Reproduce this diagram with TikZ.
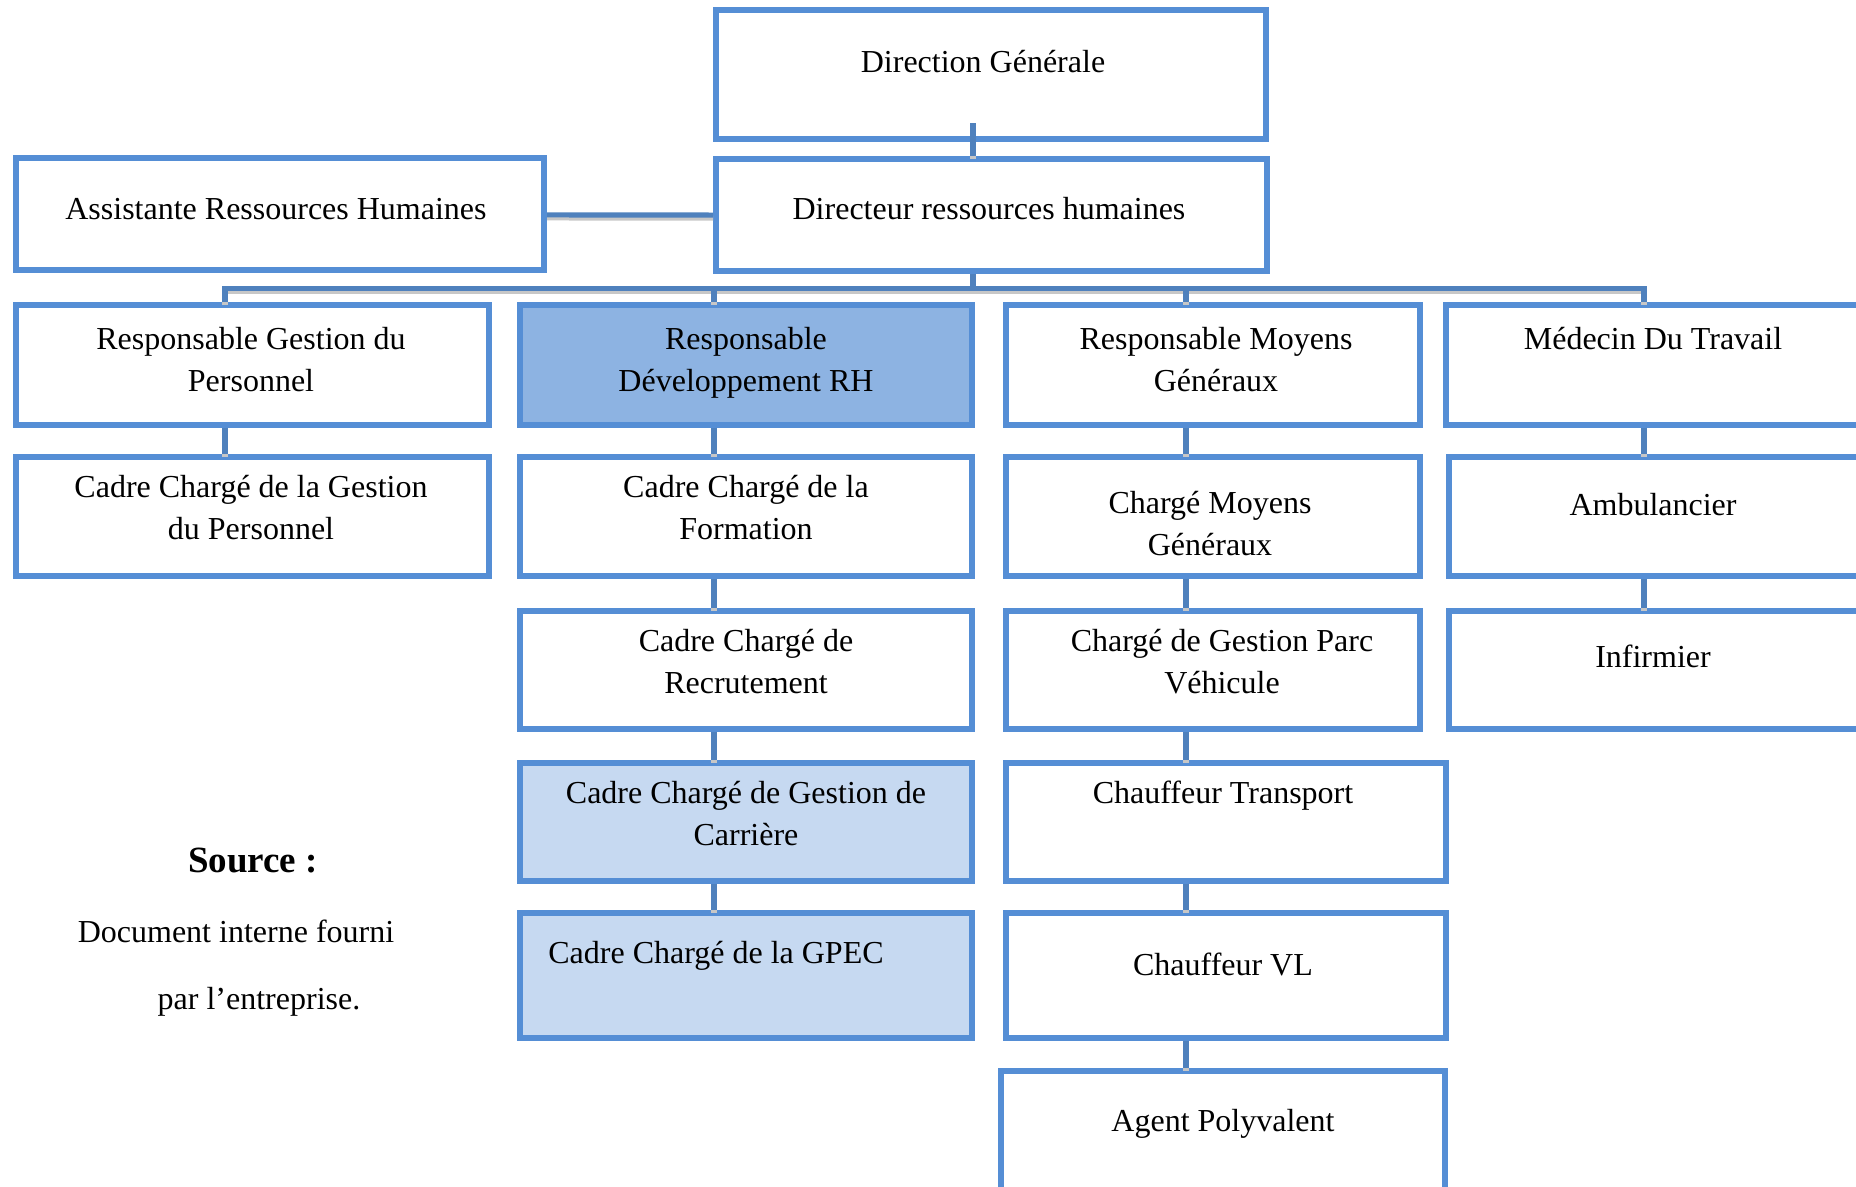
\documentclass[tikz,border=0pt]{standalone}
\usepackage{fontspec}
\setmainfont{Liberation Serif}
\usetikzlibrary{fit}
\definecolor{bord}{RGB}{85,142,213}
\definecolor{lienbleu}{RGB}{79,129,189}
\definecolor{fonce}{RGB}{141,179,226}
\definecolor{clair}{RGB}{198,217,241}

\begin{document}
\begin{tikzpicture}[x=0.5pt,y=-0.5pt]
\tikzstyle{boite}=[draw=bord,line width=3pt,fill=white,inner sep=0pt]
\tikzstyle{lien}=[draw=lienbleu,line width=2.6pt,
  preaction={draw=black!22,line width=2.6pt,transform canvas={yshift=-1.5pt}}]
\tikzstyle{texte}=[anchor=base,align=center,inner sep=0pt,
  font=\fontsize{16}{21}\selectfont]
\useasboundingbox (0,0) rectangle (1856,1187);
\clip (0,0) rectangle (1856,1187);

% colonnes des liens
\coordinate (c0) at (973,0);
\coordinate (c1) at (225,0);
\coordinate (c2) at (714,0);
\coordinate (c3) at (1186,0);
\coordinate (c4) at (1644,0);
\coordinate (bus) at (973,288.5);

% boites
\node[boite,fit={(716,10) (1266,139.5)}] (dg) {};
\node[boite,fit={(716,159.5) (1267,271.5)}] (drh) {};
\node[boite,fit={(16,158.5) (544,270.5)}] (arh) {};
\node[boite,fit={(15.5,305.5) (488.5,424.5)}] (rgp) {};
\node[boite,fill=fonce,fit={(519.5,305.5) (971.5,424.5)}] (rdrh) {};
\node[boite,fit={(1005.5,305.5) (1419.5,424.5)}] (rmg) {};
\node[boite,fit={(1446,305.5) (1880,424.5)}] (med) {};
\node[boite,fit={(15.5,456.5) (488.5,575.5)}] (ccgp) {};
\node[boite,fit={(519.5,456.5) (971.5,575.5)}] (ccf) {};
\node[boite,fit={(1005.5,456.5) (1419.5,575.5)}] (cmg) {};
\node[boite,fit={(1449,456.5) (1880,575.5)}] (amb) {};
\node[boite,fit={(519.5,610.5) (971.5,728.5)}] (ccr) {};
\node[boite,fit={(1005.5,610.5) (1419.5,728.5)}] (cgpv) {};
\node[boite,fit={(1449,610.5) (1880,728.5)}] (inf) {};
\node[boite,fill=clair,fit={(519.5,762.5) (971.5,880.5)}] (ccgc) {};
\node[boite,fit={(1005.5,762.5) (1446,880.5)}] (chtr) {};
\node[boite,fill=clair,fit={(519.5,912.5) (971.5,1037.5)}] (gpec) {};
\node[boite,fit={(1005.5,912.5) (1446,1037.5)}] (chvl) {};
\node[boite,fit={(1001,1070.5) (1444.5,1220)}] (agp) {};

% liens
\draw[lien] ([yshift=9.5pt]dg.south -| c0) -- (drh.north -| c0);
\draw[lien] (drh.south -| c0) -- (bus);
\draw[lien] (arh) -- (drh);
\draw[lien] (rgp.north -| c1) -- (bus -| c1) -- (bus -| c4) -- (med.north -| c4);
\foreach \n/\c in {rdrh/c2,rmg/c3}
  \draw[lien] (bus -| \c) -- (\n.north -| \c);
\foreach \a/\b/\c in {rgp/ccgp/c1,rdrh/ccf/c2,ccf/ccr/c2,ccr/ccgc/c2,ccgc/gpec/c2,
    rmg/cmg/c3,cmg/cgpv/c3,cgpv/chtr/c3,chtr/chvl/c3,chvl/agp/c3,med/amb/c4,amb/inf/c4}
  \draw[lien] (\a.south -| \c) -- (\b.north -| \c);

% textes (base = ligne du bas)
\node[texte] (t-dg) at (983,73) {Direction Générale};
\node[texte] (t-drh) at (989,220) {Directeur ressources humaines};
\node[texte] (t-arh) at (276,220) {Assistante Ressources Humaines};
\node[texte] (t-rgp) at (251,392) {Responsable Gestion du\\Personnel};
\node[texte] (t-rdrh) at (746,392) {Responsable\\Développement RH};
\node[texte] (t-rmg) at (1216,392) {Responsable Moyens\\Généraux};
\node[texte] (t-med) at (1653,350) {Médecin Du Travail};
\node[texte] (t-ccgp) at (251,539) {Cadre Chargé de la Gestion\\du Personnel};
\node[texte] (t-ccf) at (746,539) {Cadre Chargé de la\\Formation};
\node[texte] (t-cmg) at (1210,555) {Chargé Moyens\\Généraux};
\node[texte] (t-amb) at (1653,515) {Ambulancier};
\node[texte] (t-ccr) at (746,693) {Cadre Chargé de\\Recrutement};
\node[texte] (t-cgpv) at (1222,693) {Chargé de Gestion Parc\\Véhicule};
\node[texte] (t-inf) at (1653,667) {Infirmier};
\node[texte] (t-ccgc) at (746,845) {Cadre Chargé de Gestion de\\Carrière};
\node[texte] (t-chtr) at (1223,803) {Chauffeur Transport};
\node[texte] (t-gpec) at (716,963) {Cadre Chargé de la GPEC};
\node[texte] (t-chvl) at (1223,975) {Chauffeur VL};
\node[texte] (t-agp) at (1223,1131) {Agent Polyvalent};
\node[texte,font=\fontsize{18.5}{22}\selectfont\bfseries] (source) at (253,872) {Source :};
\node[texte] (doc) at (236,942) {Document interne fourni};
\node[texte] (par) at (259,1009) {par l’entreprise.};
\end{tikzpicture}
\end{document}
